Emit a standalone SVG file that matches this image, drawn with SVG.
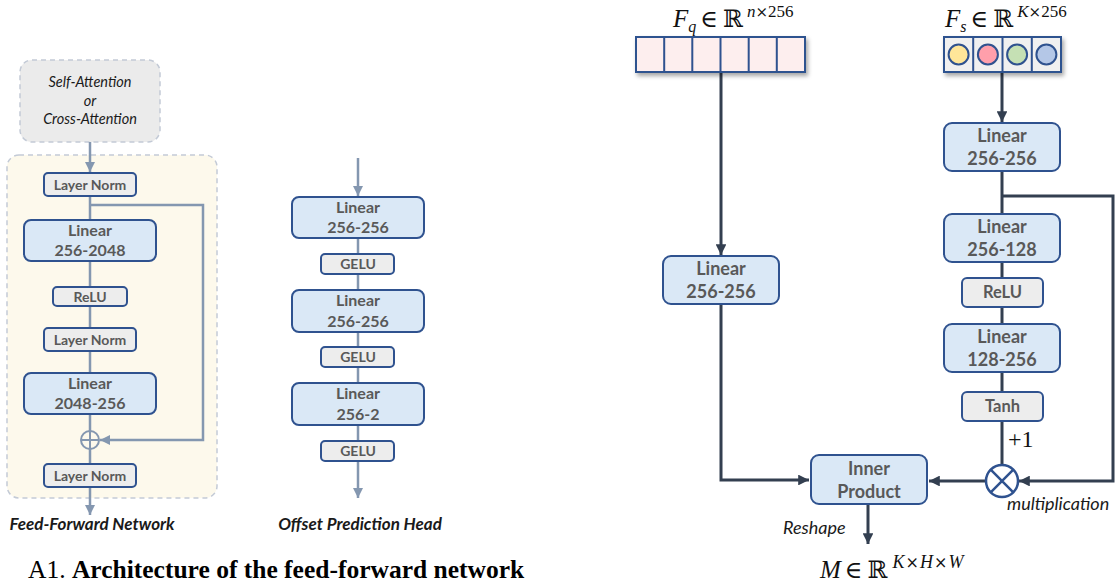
<svg xmlns="http://www.w3.org/2000/svg" width="1119" height="583" viewBox="0 0 1119 583">
<style>
.lbl{font-family:Lato,"Open Sans","Liberation Sans",sans-serif;font-weight:bold;fill:#595959;text-anchor:middle}
.s14{font-size:14px}.s16{font-size:16px}.s18{font-size:18px}.s17{font-size:16.5px}
.blue{fill:#dae8f6;stroke:#2f528f;stroke-width:2}
.gray{fill:#ededed;stroke:#2f528f;stroke-width:2}
.lc{stroke:#8497b0;stroke-width:2.5;fill:none}
.rc{stroke:#333f50;stroke-width:3;fill:none}
.it{font-family:Lato,"Open Sans","Liberation Sans",sans-serif;font-style:italic;fill:#1a1a1a}
.math{font-family:"Liberation Serif","DejaVu Serif",serif;fill:#111}
.mi{font-style:italic}
.sym{font-family:"DejaVu Serif","Liberation Serif",serif}
</style>
<defs>
<marker id="al" viewBox="0 0 10 10" refX="10" refY="5" markerWidth="4" markerHeight="4" orient="auto" markerUnits="strokeWidth"><path d="M0,0 L10,5 L0,10 z" fill="#8497b0"/></marker>
<marker id="ar" viewBox="0 0 10 10" refX="10" refY="5" markerWidth="3.6" markerHeight="3.6" orient="auto" markerUnits="strokeWidth"><path d="M0,0 L10,5 L0,10 z" fill="#333f50"/></marker>
<filter id="sh" x="-10%" y="-20%" width="130%" height="160%"><feDropShadow dx="2" dy="3" stdDeviation="2" flood-color="#000" flood-opacity="0.35"/></filter>
</defs>

<!-- LEFT PANEL -->
<g id="ffn-container"><rect x="7" y="155" width="210" height="343" rx="12" fill="#fdf9ec" stroke="#c3cad6" stroke-width="1.5" stroke-dasharray="5,4"/></g>
<g id="attention"><rect x="20" y="60" width="140" height="82" rx="12" fill="#ebebeb" stroke="#c3cad6" stroke-width="1.5" stroke-dasharray="5,4"/>
<text class="it" x="90" y="87" font-size="14.5" text-anchor="middle">Self-Attention</text>
<text class="it" x="90" y="106" font-size="14.5" text-anchor="middle">or</text>
<text class="it" x="90" y="124" font-size="14.5" text-anchor="middle">Cross-Attention</text></g>

<g id="left-connectors">
<line class="lc" x1="90" y1="142" x2="90" y2="172" marker-end="url(#al)"/>
<line class="lc" x1="90" y1="196" x2="90" y2="220"/>
<path class="lc" d="M90,205 H203 V440 H100" marker-end="url(#al)"/>
<line class="lc" x1="90" y1="261" x2="90" y2="287"/>
<line class="lc" x1="90" y1="306" x2="90" y2="328"/>
<line class="lc" x1="90" y1="351" x2="90" y2="373"/>
<line class="lc" x1="90" y1="414" x2="90" y2="464"/>
<line class="lc" x1="90" y1="487" x2="90" y2="515" marker-end="url(#al)"/>
</g>
<g id="ln1"><rect class="gray" x="44" y="173" width="92" height="23" rx="4"/><text class="lbl s14" x="90" y="189.5">Layer Norm</text></g>
<g id="lin1"><rect class="blue" x="24" y="220" width="132" height="41" rx="7"/><text class="lbl s16" x="90" y="236">Linear</text><text class="lbl s16" x="90" y="256">256-2048</text></g>
<g id="relu1"><rect class="gray" x="53" y="287" width="74" height="19" rx="4"/><text class="lbl s14" x="90" y="301.5">ReLU</text></g>
<g id="ln2"><rect class="gray" x="44" y="328" width="92" height="23" rx="4"/><text class="lbl s14" x="90" y="344.5">Layer Norm</text></g>
<g id="lin2"><rect class="blue" x="24" y="373" width="132" height="41" rx="7"/><text class="lbl s16" x="90" y="389">Linear</text><text class="lbl s16" x="90" y="409">2048-256</text></g>
<g id="add"><circle cx="90" cy="440" r="9" fill="#fdf9ec" stroke="#8497b0" stroke-width="2"/><path d="M81,440 H99 M90,431 V449" stroke="#8497b0" stroke-width="2"/></g>
<g id="ln3"><rect class="gray" x="44" y="464" width="92" height="23" rx="4"/><text class="lbl s14" x="90" y="480.5">Layer Norm</text></g>
<text class="it" x="92" y="530" font-size="17" font-weight="bold" text-anchor="middle" fill="#000">Feed-Forward Network</text>

<!-- MIDDLE PANEL -->
<g id="mid-connectors">
<line class="lc" x1="358" y1="158" x2="358" y2="196" marker-end="url(#al)"/>
<line class="lc" x1="358" y1="238" x2="358" y2="254"/>
<line class="lc" x1="358" y1="274" x2="358" y2="290"/>
<line class="lc" x1="358" y1="332" x2="358" y2="347"/>
<line class="lc" x1="358" y1="367" x2="358" y2="383"/>
<line class="lc" x1="358" y1="425" x2="358" y2="441"/>
<line class="lc" x1="358" y1="461" x2="358" y2="498" marker-end="url(#al)"/>
</g>
<g id="olin1"><rect class="blue" x="292" y="197" width="132" height="41" rx="7"/><text class="lbl s16" x="358" y="213">Linear</text><text class="lbl s16" x="358" y="233">256-256</text></g>
<g id="gelu1"><rect class="gray" x="321" y="254" width="73" height="20" rx="4"/><text class="lbl s14" x="358" y="269">GELU</text></g>
<g id="olin2"><rect class="blue" x="292" y="290" width="132" height="42" rx="7"/><text class="lbl s16" x="358" y="306">Linear</text><text class="lbl s16" x="358" y="327">256-256</text></g>
<g id="gelu2"><rect class="gray" x="321" y="347" width="73" height="20" rx="4"/><text class="lbl s14" x="358" y="362">GELU</text></g>
<g id="olin3"><rect class="blue" x="292" y="383" width="132" height="42" rx="7"/><text class="lbl s16" x="358" y="399">Linear</text><text class="lbl s16" x="358" y="420">256-2</text></g>
<g id="gelu3"><rect class="gray" x="321" y="441" width="73" height="20" rx="4"/><text class="lbl s14" x="358" y="456">GELU</text></g>
<text class="it" x="360" y="530" font-size="17" font-weight="bold" text-anchor="middle" fill="#000">Offset Prediction Head</text>

<!-- CAPTION -->
<text x="28" y="578" font-family="'Liberation Serif',serif" font-size="25.5" fill="#000">A1. <tspan font-weight="bold">Architecture of the feed-forward network</tspan></text>

<!-- RIGHT PANEL -->
<g id="right-connectors">
<line class="rc" x1="721" y1="72" x2="721" y2="255" marker-end="url(#ar)"/>
<path class="rc" d="M721,304 V480 H809" marker-end="url(#ar)"/>
<line class="rc" x1="1002" y1="72" x2="1002" y2="122" marker-end="url(#ar)"/>
<line class="rc" x1="1002" y1="171" x2="1002" y2="214"/>
<path class="rc" d="M1002,196 H1113 V481 H1019" marker-end="url(#ar)"/>
<line class="rc" x1="1002" y1="262" x2="1002" y2="278"/>
<line class="rc" x1="1002" y1="307" x2="1002" y2="324"/>
<line class="rc" x1="1002" y1="372" x2="1002" y2="392"/>
<line class="rc" x1="1002" y1="421" x2="1002" y2="465"/>
<line class="rc" x1="986" y1="481" x2="929" y2="481" marker-end="url(#ar)"/>
<line class="rc" x1="868" y1="504" x2="868" y2="544" marker-end="url(#ar)"/>
</g>

<g id="fq">
<g filter="url(#sh)"><rect x="636" y="37" width="169" height="35" fill="#fdeeee" stroke="#2f528f" stroke-width="2"/></g>
<path d="M664.2,37 V72 M692.3,37 V72 M720.5,37 V72 M748.7,37 V72 M776.8,37 V72" stroke="#2f528f" stroke-width="2"/>
<text class="math" x="673" y="27" font-size="25"><tspan class="mi">F</tspan><tspan class="mi" font-size="16" dy="5">q</tspan><tspan class="sym" dy="-5" dx="4" font-size="24">∈</tspan><tspan class="sym" dx="5" font-size="24">ℝ</tspan><tspan font-size="17" dx="4" dy="-10"><tspan class="mi">n</tspan><tspan class="sym" font-size="15">×</tspan>256</tspan></text>
</g>
<g id="fs">
<g filter="url(#sh)"><rect x="944" y="37" width="117" height="35" fill="#f0f0f0" stroke="#2f528f" stroke-width="2"/></g>
<path d="M973.2,37 V72 M1002.5,37 V72 M1031.8,37 V72" stroke="#2f528f" stroke-width="2"/>
<circle cx="958.6" cy="54.5" r="10" fill="#ffe699" stroke="#2f528f" stroke-width="2"/>
<circle cx="987.9" cy="54.5" r="10" fill="#ff9fab" stroke="#2f528f" stroke-width="2"/>
<circle cx="1017.1" cy="54.5" r="10" fill="#c5e0b4" stroke="#2f528f" stroke-width="2"/>
<circle cx="1046.4" cy="54.5" r="10" fill="#b4c7e7" stroke="#2f528f" stroke-width="2"/>
<text class="math" x="945" y="27" font-size="25"><tspan class="mi">F</tspan><tspan class="mi" font-size="16" dy="5">s</tspan><tspan class="sym" dy="-5" dx="4" font-size="24">∈</tspan><tspan class="sym" dx="5" font-size="24">ℝ</tspan><tspan font-size="17" dx="4" dy="-10"><tspan class="mi">K</tspan><tspan class="sym" font-size="15">×</tspan>256</tspan></text>
</g>

<g id="qlin"><rect class="blue" x="663" y="256" width="116" height="48" rx="8"/><text class="lbl s18" x="721" y="275">Linear</text><text class="lbl s18" x="721" y="298">256-256</text></g>
<g id="slin1"><rect class="blue" x="944" y="123" width="116" height="48" rx="8"/><text class="lbl s18" x="1002" y="142">Linear</text><text class="lbl s18" x="1002" y="165">256-256</text></g>
<g id="slin2"><rect class="blue" x="944" y="214" width="116" height="48" rx="8"/><text class="lbl s18" x="1002" y="233">Linear</text><text class="lbl s18" x="1002" y="256">256-128</text></g>
<g id="srelu"><rect class="gray" x="962" y="278" width="81" height="29" rx="5"/><text class="lbl s17" x="1002.5" y="298">ReLU</text></g>
<g id="slin3"><rect class="blue" x="944" y="324" width="116" height="48" rx="8"/><text class="lbl s18" x="1002" y="343">Linear</text><text class="lbl s18" x="1002" y="366">128-256</text></g>
<g id="tanh"><rect class="gray" x="962" y="392" width="81" height="29" rx="5"/><text class="lbl s17" x="1002.5" y="412">Tanh</text></g>
<text class="math" x="1008" y="447" font-size="24">+1</text>
<g id="mult"><circle cx="1002" cy="481" r="16" fill="#fff" stroke="#2f528f" stroke-width="2.5"/><path d="M990.7,469.7 L1013.3,492.3 M1013.3,469.7 L990.7,492.3" stroke="#2f528f" stroke-width="2.5"/></g>
<text class="it" x="1007" y="510" font-size="18">multiplication</text>
<g id="inner"><rect class="blue" x="811" y="455" width="116" height="49" rx="8"/><text class="lbl s18" x="869" y="475">Inner</text><text class="lbl s18" x="869" y="498">Product</text></g>
<text class="it" x="783" y="534" font-size="18">Reshape</text>
<text class="math" x="820" y="578" font-size="25"><tspan class="mi">M</tspan><tspan class="sym" dx="4" font-size="24">∈</tspan><tspan class="sym" dx="5" font-size="24">ℝ</tspan><tspan font-size="18" dx="5" dy="-10"><tspan class="mi">K</tspan><tspan class="sym" font-size="16" dx="1">×</tspan><tspan class="mi" dx="1">H</tspan><tspan class="sym" font-size="16" dx="1">×</tspan><tspan class="mi" dx="1">W</tspan></tspan></text>
</svg>
